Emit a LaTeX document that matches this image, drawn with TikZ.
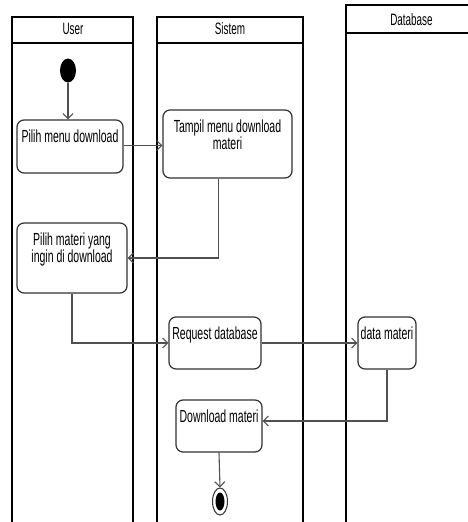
\documentclass[tikz,border=0pt]{standalone}
\usepackage{fontspec}
\setmainfont[FakeStretch=0.6]{Liberation Sans}
\usetikzlibrary{calc,positioning,arrows.meta,shapes.geometric}
\definecolor{umlline}{RGB}{80,80,80}
\definecolor{umlbox}{RGB}{50,50,50}
\tikzset{
  laneline/.style={draw=black,line width=1.4pt},
  lanefont/.style={font=\fontsize{16.5}{18}\selectfont},
  actbox/.style={draw=umlbox,line width=1.2pt,rounded corners=7pt,fill=white},
  acttext/.style={anchor=north,align=center,inner sep=0pt,font=\fontsize{17.5}{15}\selectfont},
  flow/.style={draw=umlline,line width=1.1pt,-{Straight Barb[length=5pt,width=10pt]}},
  initnode/.style={ellipse,fill=black,inner sep=0pt,minimum width=16pt,minimum height=24pt},
  finalnode/.style={ellipse,draw=umlbox,line width=1pt,fill=white,inner sep=0pt,minimum width=15pt,minimum height=27pt},
  finaldot/.style={ellipse,fill=black,inner sep=0pt,minimum width=9pt,minimum height=18pt},
}
% lane: name, left, right, top, header bottom, label x, label y, label
\newcommand{\swlane}[8]{%
  \draw[laneline] (#2,#4) rectangle (#3,540);
  \draw[laneline] (#2,#5) -- (#3,#5);
  \node[lanefont,inner sep=0pt] (#1) at (#6,#7) {#8};}
% action: name, x, y, width, height, text
\newcommand{\actnode}[6]{%
  \node[actbox,minimum width=#4pt,minimum height=#5pt] (#1) at (#2,#3) {};
  \node[acttext] (#1-txt) at ([yshift=-10pt]#1.north) {#6};}

\begin{document}
\begin{tikzpicture}[x=1pt,y=-1pt]
    \useasboundingbox (0,0) rectangle (468,522);
    \clip (0,0) rectangle (468,522);
    \fill[white] (0,0) rectangle (468,522);
    % swimlanes
    \swlane{laneuser}{12}{133}{17}{43}{73}{28.5}{User}
    \swlane{lanesis}{157}{303}{17}{43}{230}{28.5}{Sistem}
    \swlane{lanedb}{346}{478}{5}{33}{411.5}{19.5}{Database}
    % actions
    \node[initnode] (start) at (68,70.5) {};
    \actnode{pilihmenu}{70}{146.5}{106}{53}{Pilih menu download}
    \actnode{tampil}{227.5}{144}{129}{68}{Tampil menu download\\materi}
    \actnode{pilihmateri}{72}{258}{110}{70}{Pilih materi yang\\ingin di download}
    \actnode{request}{215}{343}{92}{52}{Request database}
    \actnode{datamateri}{387}{343}{58}{52}{data materi}
    \actnode{download}{219}{426}{86}{52}{Download materi}
    \node[finalnode] (stop) at (220,501.5) {};
    \node[finaldot] (stopdot) at (stop) {};
    % flows
    \draw[flow] (start) -- (start |- pilihmenu.north);
    \draw[flow] ([yshift=1pt]pilihmenu.east) -- ([yshift=1pt]pilihmenu.east -| tampil.west);
    \draw[flow] ([xshift=-9pt]tampil.south) |- (pilihmateri.east);
    \draw[flow] (pilihmateri.south) |- (request.west);
    \draw[flow] (request.east) -- (datamateri.west);
    \draw[flow] (datamateri.south) |- ([yshift=5pt]download.east);
    \draw[flow] (download.south) -- (stop.north);
\end{tikzpicture}
\end{document}
